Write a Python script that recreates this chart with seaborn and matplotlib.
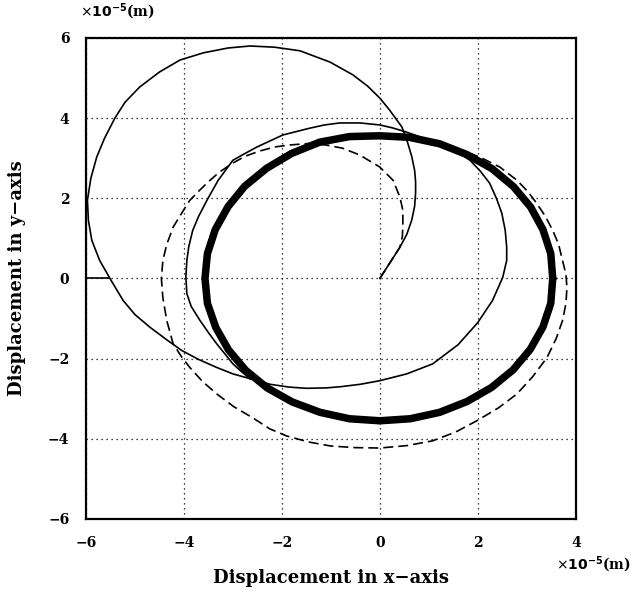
import matplotlib
matplotlib.use("Agg")
import matplotlib.pyplot as plt
import seaborn as sns

# Transient orbit (thin solid), units of 1e-5 m
thin_x = [0.0, 0.2, 0.41, 0.55, 0.65, 0.71, 0.73, 0.73, 0.71, 0.65, 0.57, 0.45, 0.20, 0.0,
          -0.25, -0.55, -1.02, -1.63, -2.15, -2.65, -3.1, -3.6, -4.08, -4.5, -4.90, -5.2,
          -5.41, -5.62, -5.78, -5.90, -5.97, -5.95, -5.88, -5.72, -5.51, -5.24, -5.0, -4.69,
          -4.35, -4.04, -3.7, -3.33, -3.0, -2.65, -2.24, -1.85, -1.5, -1.1, -0.8, -0.4, 0.0,
          0.55, 1.08, 1.6, 2.0, 2.3, 2.51, 2.59, 2.59, 2.56, 2.49, 2.38, 2.24, 2.05, 1.84,
          1.59, 1.3, 0.96, 0.55, 0.25, 0.0, -0.4, -0.82, -1.13, -1.43, -1.98, -2.51, -2.78,
          -3.0, -3.3, -3.53, -3.70, -3.82, -3.90, -3.94, -3.96, -3.94, -3.85, -3.67, -3.5,
          -3.33, -3.15, -3.0, -2.82, -2.65]
thin_y = [0.0, 0.38, 0.78, 1.1, 1.45, 1.8, 2.13, 2.42, 2.70, 3.05, 3.38, 3.78, 4.20, 4.50,
          4.80, 5.08, 5.40, 5.68, 5.77, 5.80, 5.75, 5.63, 5.45, 5.15, 4.78, 4.4,
          4.0, 3.5, 3.03, 2.5, 1.95, 1.45, 0.95, 0.45, 0.0, -0.55, -0.9, -1.22,
          -1.53, -1.80, -2.02, -2.22, -2.38, -2.50, -2.64, -2.71, -2.74, -2.73, -2.70, -2.64, -2.55,
          -2.38, -2.13, -1.65, -1.1, -0.55, 0.03, 0.45, 0.78, 1.2, 1.63, 2.0, 2.38, 2.68, 2.95,
          3.15, 3.32, 3.47, 3.65, 3.76, 3.83, 3.88, 3.88, 3.83, 3.75, 3.58, 3.28, 3.10,
          2.95, 2.45, 1.95, 1.55, 1.2, 0.8, 0.45, 0.05, -0.38, -0.70, -1.05, -1.35,
          -1.63, -1.90, -2.13, -2.33, -2.50]

# Transient orbit (dashed)
dash_x = [0.0, 0.2, 0.41, 0.46, 0.47, 0.47, 0.41, 0.27, 0.0, -0.41, -0.76, -1.1, -1.43,
          -1.84, -2.15, -2.45, -2.75, -3.0, -3.28, -3.53, -3.72, -3.88, -4.05, -4.22, -4.35,
          -4.43, -4.46, -4.43, -4.35, -4.22, -4.05, -3.88, -3.62, -3.33, -2.98, -2.59, -2.25,
          -1.90, -1.45, -1.0, -0.5, 0.0, 0.55, 1.08, 1.55, 1.98, 2.42, 2.80, 3.12, 3.41, 3.6,
          3.73, 3.80, 3.82, 3.80, 3.73, 3.65, 3.53, 3.38, 3.2, 3.02, 2.80, 2.45, 2.04, 1.62, 1.22]
dash_y = [0.0, 0.38, 0.78, 1.05, 1.33, 1.70, 2.03, 2.45, 2.78, 3.08, 3.25, 3.33, 3.37,
          3.33, 3.28, 3.18, 3.05, 2.88, 2.65, 2.38, 2.15, 1.95, 1.62, 1.28, 0.85,
          0.45, 0.0, -0.48, -1.05, -1.63, -1.95, -2.22, -2.57, -2.88, -3.2, -3.48, -3.75,
          -3.93, -4.08, -4.18, -4.22, -4.23, -4.17, -4.05, -3.83, -3.55, -3.23, -2.88, -2.45, -1.98, -1.5,
          -1.05, -0.62, -0.23, 0.1, 0.45, 0.85, 1.2, 1.55, 1.88, 2.17, 2.45, 2.78, 3.03, 3.22, 3.38]

# Steady-state orbit (thick band)
thick_x = [3.53, 3.49, 3.33, 3.08, 2.73, 2.29, 1.78, 1.22, 0.61, 0.0, -0.62, -1.23, -1.80,
           -2.31, -2.76, -3.10, -3.36, -3.52, -3.57, -3.52, -3.35, -3.09, -2.74, -2.30,
           -1.79, -1.22, -0.62, 0.0, 0.62, 1.22, 1.78, 2.28, 2.72, 3.07, 3.33, 3.49, 3.53]
thick_y = [0.0, 0.62, 1.22, 1.78, 2.29, 2.74, 3.09, 3.36, 3.52, 3.56, 3.54, 3.40, 3.12,
           2.75, 2.30, 1.79, 1.22, 0.62, 0.0, -0.62, -1.22, -1.78, -2.29, -2.73,
           -3.08, -3.34, -3.50, -3.55, -3.50, -3.34, -3.07, -2.72, -2.28, -1.77, -1.21, -0.62, 0.0]

# short stub on the left edge at y=0
stub_x = [-6.0, -5.53]
stub_y = [0.0, 0.0]

x_ticks = [-6, -4, -2, 0, 2, 4]
y_ticks = [-6, -4, -2, 0, 2, 4, 6]

sns.set_theme(style="white")
plt.rcParams['font.family'] = ['DejaVu Serif']
plt.rcParams['text.color'] = 'black'
plt.rcParams['axes.labelcolor'] = 'black'
plt.rcParams['xtick.color'] = 'black'
plt.rcParams['ytick.color'] = 'black'

fig = plt.figure(figsize=(6.32, 5.99), dpi=100)
ax = fig.add_axes([0.136, 0.1336, 0.775, 0.803])

sns.lineplot(x=thick_x, y=thick_y, sort=False, estimator=None, color="black",
             linewidth=5.4, solid_joinstyle="round", ax=ax)
sns.lineplot(x=thin_x, y=thin_y, sort=False, estimator=None, color="black",
             linewidth=1.2, solid_joinstyle="round", ax=ax)
sns.lineplot(x=dash_x, y=dash_y, sort=False, estimator=None, color="black",
             linewidth=1.2, linestyle=(0, (6, 3)), ax=ax)
sns.lineplot(x=stub_x, y=stub_y, sort=False, estimator=None, color="black",
             linewidth=1.2, ax=ax)

def fmt(t):
    return ("\u2212" + str(abs(t))) if t < 0 else str(t)

ax.set_xlim(-6, 4)
ax.set_ylim(-6, 6)
ax.set_xticks(x_ticks)
ax.set_yticks(y_ticks)
ax.set_xticklabels([fmt(t) for t in x_ticks], fontweight="bold", fontsize=10, color="black")
ax.set_yticklabels([fmt(t) for t in y_ticks], fontweight="bold", fontsize=10, color="black")
ax.tick_params(axis="both", length=0, pad=12)
ax.grid(True, color="black", linestyle=(0, (1, 3)), linewidth=0.9)
for s in ax.spines.values():
    s.set_color("black")
    s.set_linewidth(1.6)

ax.set_xlabel("Displacement in x\u2212axis", fontweight="bold", fontsize=13, labelpad=14,
              color="black")
ax.set_ylabel("Displacement in y\u2212axis", fontweight="bold", fontsize=13, labelpad=16,
              color="black")

fig.text(0.127, 0.963, r"$\times\mathbf{10^{-5}}$(m)", fontsize=10, fontweight="bold",
         ha="left", va="bottom", color="black")
fig.text(0.998, 0.040, r"$\times\mathbf{10^{-5}}$(m)", fontsize=10, fontweight="bold",
         ha="right", va="bottom", color="black")

fig.savefig("out.png", dpi=100, facecolor="white")
